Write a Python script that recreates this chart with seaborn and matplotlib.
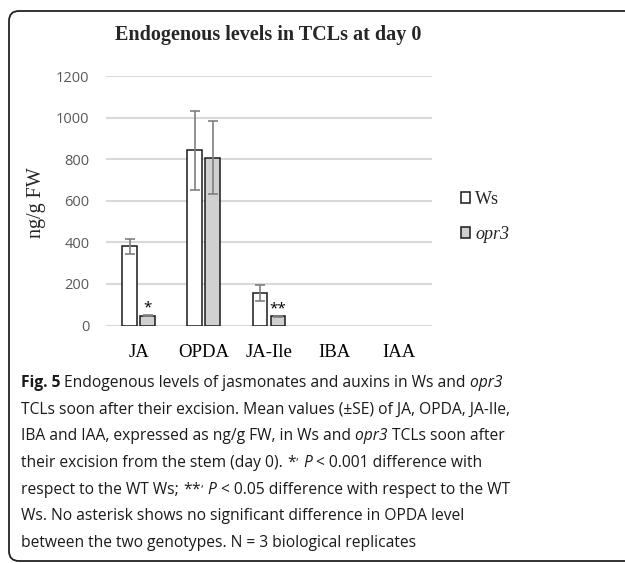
import matplotlib
matplotlib.use("Agg")  # no display, only saving

import matplotlib.pyplot as plt
from matplotlib.patches import FancyBboxPatch
from matplotlib.text import Annotation
import seaborn as sns
import pandas as pd

compounds = ["JA", "OPDA", "JA-Ile", "IBA", "IAA"]
genotypes = ["Ws", "opr3"]
ws_mean = [380, 842, 155, 0, 0]
ws_se = [35, 190, 38, 0, 0]
opr3_mean = [48, 808, 45, 0, 0]
opr3_se = [4, 175, 3, 0, 0]
opr3_stars = ["*", "", "**", "", ""]
y_ticks = [0, 200, 400, 600, 800, 1000, 1200]

title = "Endogenous levels in TCLs at day 0"
y_label = "ng/g FW"
# caption lines as (text, style) pieces: n = normal, b = bold, i = italic
caption_lines = [
    [("Fig. 5", "b"), (" Endogenous levels of jasmonates and auxins in Ws and", "n"), (" opr3", "i")],
    [("TCLs soon after their excision. Mean values (±SE) of JA, OPDA, JA-Ile,", "n")],
    [("IBA and IAA, expressed as ng/g FW, in Ws and", "n"), (" opr3", "i"), (" TCLs soon after", "n")],
    [("their excision from the stem (day 0).", "n"), (" *$^{,}$", "n"), (" P", "i"),
     (" < 0.001 difference with", "n")],
    [("respect to the WT Ws;", "n"), (" **$^{,}$", "n"), (" P", "i"),
     (" < 0.05 difference with respect to the WT", "n")],
    [("Ws. No asterisk shows no significant difference in OPDA level", "n")],
    [("between the two genotypes. N = 3 biological replicates", "n")],
]

W, H = 625, 563


def fx(px):
    return px / W


def fy(px):
    return 1 - px / H


sns.set_style("white")
plt.rcParams["mathtext.fontset"] = "custom"
plt.rcParams["mathtext.rm"] = "Open Sans"

data = pd.DataFrame({
    "compound": compounds * 2,
    "genotype": [genotypes[0]] * len(compounds) + [genotypes[1]] * len(compounds),
    "value": ws_mean + opr3_mean,
})

fig = plt.figure(figsize=(6.25, 5.63), dpi=100)
ax = fig.add_axes([fx(106), fy(325.5), fx(432) - fx(106), fy(76) - fy(325.5)])

sns.barplot(data=data, x="compound", y="value", hue="genotype",
            order=compounds, hue_order=genotypes,
            palette=["white", "#d0d0d0"], edgecolor="#1a1a1a", linewidth=1.1,
            width=0.55, gap=0.17, errorbar=None, ax=ax)

# empty bars (IBA, IAA) leave no outline
for container in ax.containers:
    for b in container:
        if b.get_height() == 0:
            b.set_linewidth(0)

# error bars (SE) drawn at the bar centres seaborn placed
for container, means, ses in zip(ax.containers, [ws_mean, opr3_mean], [ws_se, opr3_se]):
    xs = [b.get_x() + b.get_width() / 2 for b in container]
    pts = [(x, m, s) for x, m, s in zip(xs, means, ses) if m > 0]
    ax.errorbar([p[0] for p in pts], [p[1] for p in pts], yerr=[p[2] for p in pts],
                fmt="none", ecolor="#7f7f7f", elinewidth=1.2, capsize=3.5,
                capthick=1.2, zorder=5)

for b, m, s, star in zip(ax.containers[1], opr3_mean, opr3_se, opr3_stars):
    if star:
        ax.annotate(star, (b.get_x() + b.get_width() / 2, m + s), xytext=(0, 5),
                    textcoords="offset points", ha="center", va="center",
                    fontsize=11, family="Open Sans", color="black")

ax.set_ylim(0, 1200)
ax.set_xlim(-0.5, len(compounds) - 0.5)
ax.set_yticks(y_ticks)
ax.set_axisbelow(True)
ax.yaxis.grid(True, color="#d9d9d9", linewidth=1.5)
sns.despine(ax=ax, left=True, bottom=True)
ax.tick_params(length=0)
ax.tick_params(axis="y", pad=12, labelsize=10.5, labelcolor="#595959")
ax.tick_params(axis="x", pad=13, labelsize=13.5, labelcolor="black")
for t in ax.get_yticklabels():
    t.set_family("Open Sans")
for t in ax.get_xticklabels():
    t.set_family("Liberation Serif")
ax.set_xlabel("")
ax.set_ylabel("")

leg = ax.legend(loc="center left", bbox_to_anchor=(fx(461), fy(217)),
                bbox_transform=fig.transFigure, frameon=False,
                prop={"family": "Liberation Serif", "size": 13},
                handlelength=0.5, handleheight=0.5, handletextpad=0.3,
                labelspacing=1.0, borderpad=0, borderaxespad=0)
leg.get_texts()[1].set_fontstyle("italic")

fig.text(fx(268), fy(35), title, ha="center", va="center",
         family="Liberation Serif", weight="bold", fontsize=14.5)
fig.text(fx(37), fy(203), y_label, ha="center", va="center", rotation=90,
         family="Liberation Serif", fontsize=14.5)

# caption: each piece chained to the end of the previous one
cap_size = 11.25
for i, pieces in enumerate(caption_lines):
    prev = None
    for text, style in pieces:
        kw = dict(family="Open Sans", fontsize=cap_size, color="#1a1a1a",
                  weight="bold" if style == "b" else "normal",
                  style="italic" if style == "i" else "normal")
        if prev is None:
            prev = fig.text(fx(21), fy(383 + i * 26.7), text, ha="left", va="center", **kw)
        else:
            prev = Annotation(text, xy=(1, 0), xycoords=prev, ha="left", va="bottom", **kw)
            fig.add_artist(prev)

frame = FancyBboxPatch((0.09, 0.02), 9.0, 5.50, boxstyle="round,pad=0,rounding_size=0.1",
                       transform=fig.dpi_scale_trans, facecolor="none",
                       edgecolor="#222222", linewidth=1.3)
fig.add_artist(frame)

fig.savefig("out.png", dpi=100)
plt.close(fig)
